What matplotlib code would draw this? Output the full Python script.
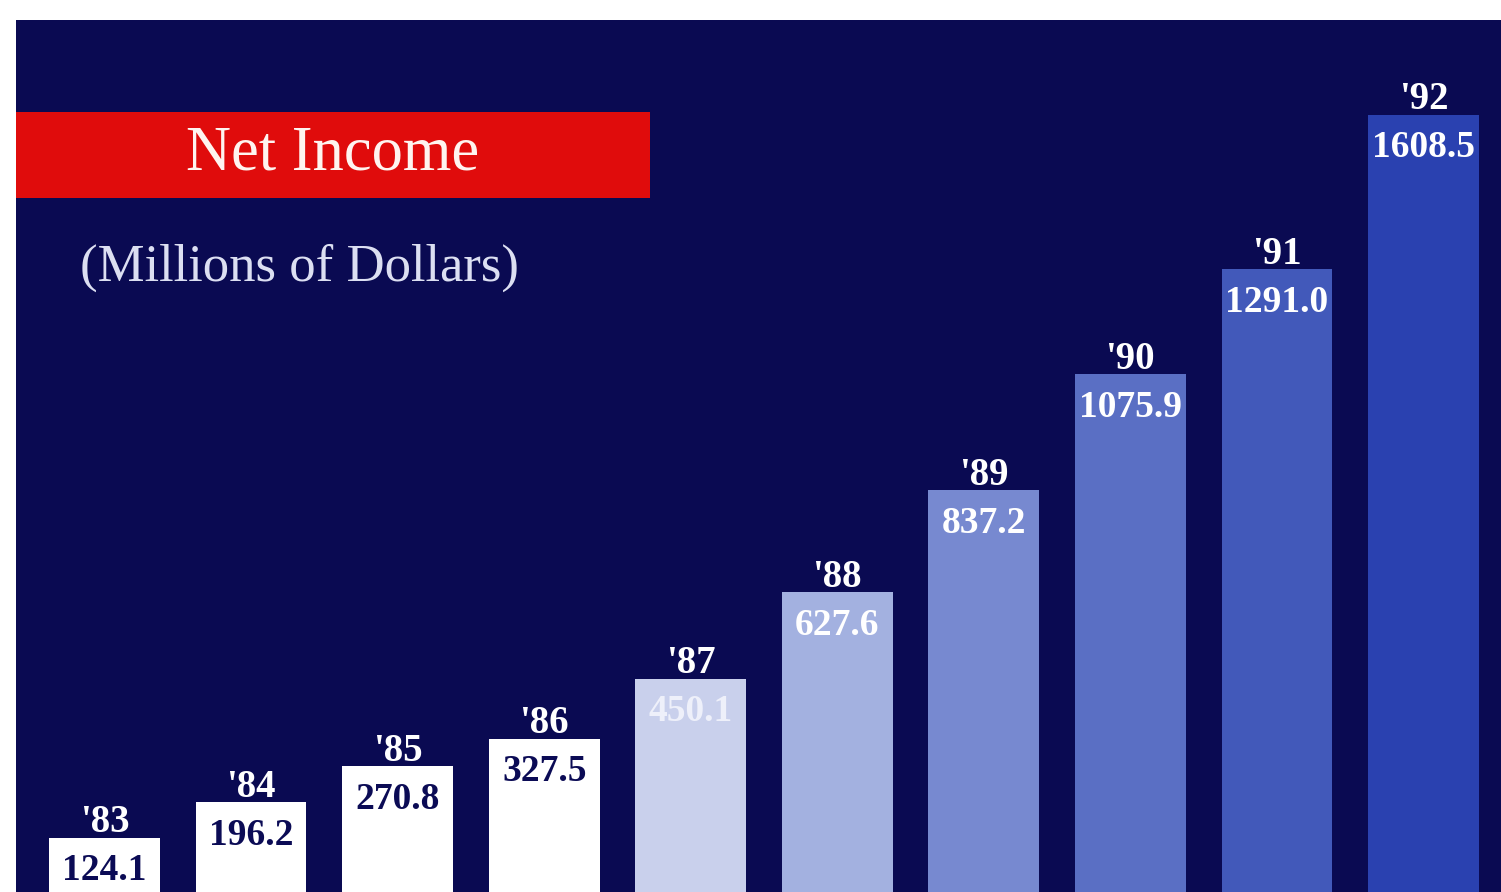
import matplotlib
matplotlib.use("Agg")
import matplotlib.pyplot as plt
from matplotlib.patches import Rectangle

years = ["'83", "'84", "'85", "'86", "'87", "'88", "'89", "'90", "'91", "'92"]
net_income = [124.1, 196.2, 270.8, 327.5, 450.1, 627.6, 837.2, 1075.9, 1291.0, 1608.5]
bar_colors = ["#ffffff", "#ffffff", "#ffffff", "#ffffff", "#c9d0ec",
              "#a3b1e0", "#7789d0", "#5a6fc4", "#4259ba", "#2a41b0"]
value_colors = ["#0b0b55", "#0b0b55", "#0b0b55", "#0b0b55", "#eef0fa",
                "#ffffff", "#ffffff", "#ffffff", "#ffffff", "#ffffff"]

navy = "#0a0a52"
serif = ["Liberation Serif", "DejaVu Serif"]

fig = plt.figure(figsize=(15.01, 8.92), dpi=100, facecolor="white")
ax = fig.add_axes([16 / 1501, 0, 1 - 16 / 1501, 1 - 20 / 892])
ax.set_facecolor(navy)

x = list(range(len(years)))
ax.bar(x, net_income, width=0.755, color=bar_colors, zorder=2)
ax.set_xlim(-0.605, 9.53)
ax.set_ylim(12.3, 1803)
ax.axis("off")
ax.add_patch(Rectangle((0, 0), 1, 1, transform=ax.transAxes,
                       facecolor=navy, zorder=0))

for xi, v, yr, vc in zip(x, net_income, years, value_colors):
    ax.annotate(yr, (xi, v), xytext=(0, 15), textcoords="offset pixels",
                ha="center", va="center", fontsize=28, fontweight="bold",
                family=serif, color="white", zorder=3)
    ax.annotate(f"{v:.1f}", (xi, v), xytext=(0, -33), textcoords="offset pixels",
                ha="center", va="center", fontsize=27, fontweight="bold",
                family=serif, color=vc, zorder=3)

# red title banner
fig.add_artist(Rectangle((16 / 1501, 1 - 198 / 892), (650 - 16) / 1501, 86 / 892,
                         transform=fig.transFigure, facecolor="#e00c0c",
                         edgecolor="none", zorder=5))
fig.text(333 / 1501, 1 - 155 / 892, "Net Income", ha="center", va="center",
         fontsize=45, family=serif, color="#fff4f0", zorder=6)
fig.text(80 / 1501, 1 - 268 / 892, "(Millions of Dollars)", ha="left", va="center",
         fontsize=38, family=serif, color="#dcdff2", zorder=6)

fig.savefig("out.png", dpi=100, facecolor="white")
